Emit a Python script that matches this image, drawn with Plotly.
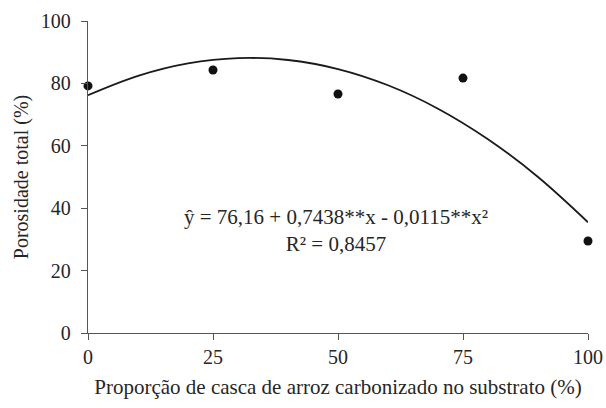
import plotly.graph_objects as go

# Observed data
x_obs = [0, 25, 50, 75, 100]
y_obs = [79.2, 84.3, 76.6, 81.7, 29.5]

# Fitted curve
x_fit = [0, 10, 20, 30, 40, 50, 60, 70, 80, 90, 100]
y_fit = [76.2, 82.4, 86.4, 88.1, 87.5, 84.6, 79.4, 71.9, 62.1, 50.0, 35.5]

x_ticks = [0, 25, 50, 75, 100]
y_ticks = [0, 20, 40, 60, 80, 100]

font_family = "Liberation Serif, Times New Roman, serif"
txt = "#262626"

fig = go.Figure()
fig.add_trace(go.Scatter(x=x_fit, y=y_fit, mode="lines", line=dict(color="#1a1a1a", width=1.8, shape="spline"),
                         showlegend=False, hoverinfo="skip"))
fig.add_trace(go.Scatter(x=x_obs, y=y_obs, mode="markers", marker=dict(color="#111111", size=9),
                         showlegend=False, cliponaxis=False))

fig.add_annotation(x=49.5, y=33, xref="x", yref="y",
                   text="ŷ = 76,16 + 0,7438**x - 0,0115**x²<br>R² = 0,8457",
                   showarrow=False, align="center", font=dict(family=font_family, size=21, color=txt))

fig.update_layout(
    width=606, height=408,
    margin=dict(l=88, r=18, t=21, b=75, autoexpand=False),
    paper_bgcolor="white", plot_bgcolor="white",
    font=dict(family=font_family, size=20, color=txt),
    xaxis=dict(range=[0, 100], tickvals=x_ticks, showline=True, linecolor="#555555", linewidth=1.3,
               ticks="outside", ticklen=6, tickcolor="#555555", showgrid=False, zeroline=False,
               automargin=False, tickfont=dict(size=20),
               title=dict(text="Proporção de casca de arroz carbonizado no substrato (%)",
                          font=dict(size=21), standoff=12)),
    yaxis=dict(range=[0, 100], tickvals=y_ticks, showline=True, linecolor="#555555", linewidth=1.3,
               ticks="outside", ticklen=6, tickcolor="#555555", showgrid=False, zeroline=False,
               automargin=False, tickfont=dict(size=20), ticklabelstandoff=6,
               title=dict(text="Porosidade total (%)", font=dict(size=20), standoff=6)),
)

fig.write_html("out.html", config={"displayModeBar": False},
               post_script="document.body.style.margin='0';")
